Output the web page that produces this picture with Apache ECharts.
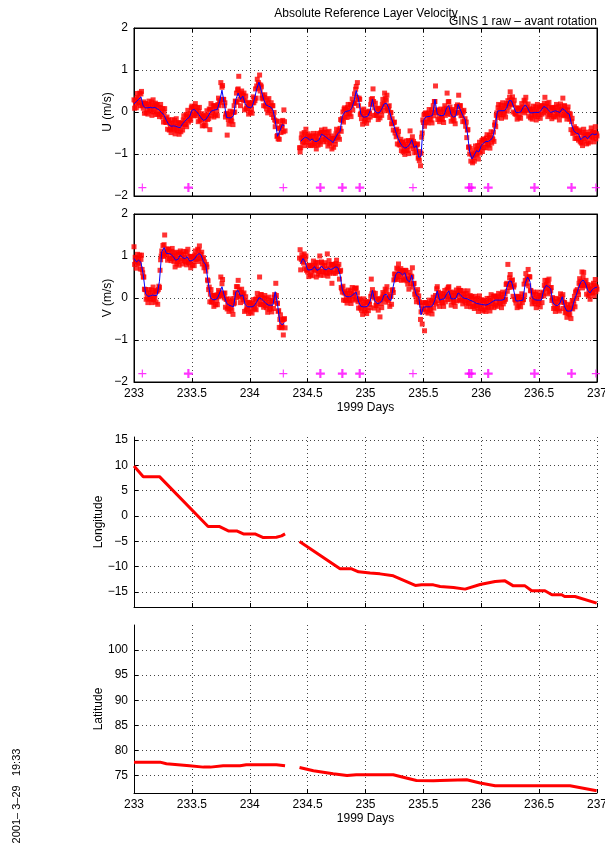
<!DOCTYPE html>
<html>
<head>
<meta charset="utf-8">
<script src="https://cdn.jsdelivr.net/npm/echarts@6/dist/echarts.min.js"></script>
<style>
html,body{margin:0;padding:0;background:#fff;}
#chart{width:605px;height:852px;}
</style>
</head>
<body>
<div id="chart"></div>
<script>
// Velocity samples: smoothed series every 0.02 day from day 233,
// raw samples every 0.005 day (four per smoothed step).
const T0 = 233, DT = 0.02, SUB = 0.005;

const xTicks = [233, 233.5, 234, 234.5, 235, 235.5, 236, 236.5, 237];
const velTicks = [-2, -1, 0, 1, 2];
const lonTicks = [-15, -10, -5, 0, 5, 10, 15];
const latTicks = [75, 80, 85, 90, 95, 100];

const uSmooth = [
  0.19,0.25,0.30,0.36,0.14,0.10,0.10,0.11,0.10,0.11,
  0.08,0.04,-0.02,-0.08,-0.20,-0.30,-0.34,-0.33,-0.34,-0.36,
  -0.37,-0.28,-0.22,-0.16,-0.12,0.04,0.06,0.01,-0.06,-0.14,
  -0.20,-0.18,-0.10,0.00,0.04,0.05,0.06,0.25,0.52,0.20,
  -0.13,-0.14,-0.14,-0.08,0.30,0.45,0.30,0.38,0.20,0.12,
  0.11,0.12,0.30,0.55,0.71,0.50,0.30,0.17,0.14,0.12,
  0.05,-0.20,-0.58,-0.45,-0.30,-0.33,null,null,null,null,
  null,null,-0.70,-0.64,-0.60,-0.62,-0.68,-0.64,-0.70,-0.70,
  -0.66,-0.53,-0.56,-0.60,-0.65,-0.68,-0.73,-0.62,-0.52,-0.46,
  -0.10,0.00,0.02,0.03,0.08,0.25,0.51,0.30,-0.05,-0.12,
  -0.12,-0.10,0.03,0.30,0.03,-0.02,-0.02,0.07,0.19,0.21,
  0.10,-0.12,-0.28,-0.46,-0.62,-0.74,-0.82,-0.86,-0.84,-0.78,
  -0.66,-0.85,-0.80,-1.08,-1.05,-0.20,-0.12,-0.11,-0.10,-0.08,
  0.30,-0.05,-0.08,-0.09,-0.07,0.10,0.15,-0.07,-0.12,-0.10,
  0.18,0.05,-0.08,-0.18,-0.50,-0.95,-1.12,-1.02,-0.92,-0.95,
  -0.80,-0.74,-0.70,-0.70,-0.67,-0.60,-0.35,0.02,0.03,0.03,
  0.03,0.10,0.27,0.27,0.12,-0.01,-0.01,0.00,0.10,0.17,
  0.10,-0.02,-0.02,-0.01,-0.01,-0.01,0.05,0.13,0.11,0.05,
  -0.01,0.01,0.03,0.01,-0.01,0.08,0.05,-0.02,-0.05,-0.30,
  -0.45,-0.50,-0.52,-0.66,-0.60,-0.58,-0.64,-0.56,-0.52,-0.54,
  -0.52
];

const uRaw = [
  [0.29,0.09,0.27,0.20],[0.10,0.34,0.44,0.23],[0.32,0.22,0.45,0.15],[0.43,0.49,0.15,0.20],[0.09,0.24,-0.03,0.20],
  [0.20,-0.02,0.15,0.06],[-0.05,0.18,0.26,0.05],[0.13,0.02,0.24,-0.08],[0.17,0.29,0.00,0.12],[0.06,0.21,-0.06,0.17],
  [0.18,-0.05,0.11,0.01],[-0.11,0.11,0.18,-0.06],[0.00,-0.12,0.08,-0.24],[-0.01,0.08,-0.24,-0.16],[-0.25,-0.12,-0.41,-0.19],
  [-0.20,-0.43,-0.27,-0.37],[-0.49,-0.26,-0.18,-0.39],[-0.31,-0.42,-0.20,-0.52],[-0.27,-0.16,-0.45,-0.34],[-0.41,-0.25,-0.53,-0.28],
  [-0.27,-0.47,-0.27,-0.34],[-0.43,-0.19,-0.09,-0.29],[-0.20,-0.30,-0.06,-0.35],[-0.09,0.04,-0.24,-0.12],[-0.17,-0.03,-0.20,0.10],
  [0.14,-0.08,0.10,0.02],[-0.09,0.13,0.20,-0.04],[0.03,-0.09,0.10,-0.23],[0.01,0.11,-0.20,-0.12],[-0.19,-0.04,-0.33,-0.09],
  [-0.10,-0.32,-0.14,-0.22],[-0.33,-0.08,0.03,-0.18],[-0.08,-0.16,0.07,-0.42],[0.07,0.20,-0.09,0.04],[-0.01,0.15,-0.12,0.14],
  [0.15,-0.07,0.11,0.02],[-0.09,0.18,0.33,0.15],[0.27,0.23,0.70,0.30],[0.59,0.63,0.30,0.30],[0.15,0.22,-0.12,-0.05],
  [-0.03,-0.55,-0.08,-0.18],[-0.29,-0.06,0.02,-0.20],[-0.12,-0.22,0.00,-0.30],[-0.01,0.15,0.00,0.26],[0.25,0.45,0.23,0.53],
  [0.55,0.85,0.45,0.30],[0.15,0.40,0.50,0.30],[0.40,0.28,0.45,0.05],[0.27,0.38,0.08,0.14],[0.07,0.23,-0.05,0.20],
  [0.21,-0.01,0.16,0.07],[-0.03,0.22,0.36,0.22],[0.32,0.27,0.55,0.33],[0.62,0.78,0.57,0.70],[0.66,0.88,0.50,0.64],
  [0.60,0.33,0.40,0.31],[0.15,0.35,0.41,0.14],[0.19,0.07,0.29,-0.02],[0.21,0.32,0.03,0.13],[0.07,0.22,-0.06,0.15],
  [0.15,-0.13,-0.01,-0.19],[-0.35,-0.21,-0.23,-0.58],[-0.56,-0.64,-0.39,-0.65],[-0.38,-0.22,-0.49,-0.33],[-0.35,-0.20,-0.47,0.05],
  [-0.23,-0.45,null,null],[],[],[],[],
  [],[null,null,-0.85,-0.95],[-0.85,-0.62,-0.52,-0.72],[-0.62,-0.72,-0.49,-0.80],[-0.53,-0.41,-0.71,-0.60],
  [-0.67,-0.52,-0.79,-0.57],[-0.58,-0.80,-0.61,-0.69],[-0.79,-0.57,-0.51,-0.75],[-0.68,-0.79,-0.57,-0.88],[-0.63,-0.51,-0.79,-0.67],
  [-0.71,-0.53,-0.77,-0.49],[-0.43,-0.66,-0.49,-0.59],[-0.71,-0.48,-0.41,-0.65],[-0.58,-0.70,-0.49,-0.81],[-0.58,-0.46,-0.76,-0.66],
  [-0.73,-0.57,-0.88,-0.63],[-0.63,-0.84,-0.63,-0.69],[-0.77,-0.52,-0.41,-0.60],[-0.50,-0.60,-0.44,-0.65],[-0.39,-0.18,-0.46,-0.20],
  [-0.15,0.00,-0.24,0.07],[0.10,-0.12,0.06,-0.03],[-0.13,0.10,0.18,-0.03],[0.05,-0.05,0.18,-0.11],[0.15,0.31,0.05,0.22],
  [0.20,0.43,0.22,0.54],[0.61,0.35,0.70,0.30],[0.15,0.33,0.30,-0.06],[-0.03,-0.16,0.04,-0.29],[-0.05,0.07,-0.22,-0.11],
  [-0.17,-0.01,-0.27,-0.02],[0.00,-0.19,0.02,-0.03],[-0.12,0.18,0.30,0.20],[0.32,0.55,0.25,-0.08],[0.10,0.21,-0.08,-0.01],
  [-0.07,0.09,-0.18,0.07],[0.08,-0.14,0.05,0.02],[-0.08,0.18,0.30,0.12],[0.21,0.45,0.33,0.03],[0.28,0.40,0.08,0.13],
  [0.05,0.15,-0.13,-0.01],[-0.02,-0.28,-0.16,-0.28],[-0.43,-0.25,-0.24,-0.50],[-0.44,-0.59,-0.41,-0.76],[-0.55,-0.46,-0.78,-0.70],
  [-0.79,-0.65,-0.92,-0.72],[-0.72,-0.95,-0.79,-0.89],[-1.01,-0.78,-0.69,-0.91],[-0.82,-0.92,-0.68,-0.99],[-0.71,-0.45,-0.81,-0.68],
  [-0.71,-0.59,-0.87,-0.70],[-0.75,-0.97,-0.79,-0.85],[-0.95,-0.78,-0.76,-1.10],[-1.06,-1.16,-0.94,-1.28],[-0.98,-0.60,-0.50,-0.19],
  [-0.25,-0.07,-0.34,-0.04],[-0.02,-0.24,-0.06,-0.15],[-0.26,-0.03,0.06,-0.16],[-0.08,-0.19,0.04,-0.26],[-0.01,0.15,-0.09,0.25],
  [0.25,0.62,-0.01,0.04],[0.05,-0.18,-0.01,-0.12],[-0.23,0.00,0.07,-0.15],[-0.07,-0.18,0.05,-0.25],[0.00,0.15,-0.08,0.09],
  [0.05,0.45,-0.04,0.24],[0.25,0.00,0.12,-0.06],[-0.22,0.02,0.06,-0.17],[-0.10,-0.21,0.02,-0.28],[-0.03,0.13,-0.01,0.17],
  [0.13,0.40,0.00,0.15],[0.15,-0.09,0.03,-0.09],[-0.23,0.00,0.04,-0.22],[-0.16,-0.34,-0.24,-0.61],[-0.43,-0.42,-0.84,-0.83],
  [-1.00,-0.87,-1.17,-0.98],[-1.02,-1.21,-1.04,-1.09],[-1.17,-0.92,-0.81,-1.00],[-0.90,-1.02,-0.80,-1.12],[-0.88,-0.72,-0.98,-0.80],
  [-0.85,-0.68,-0.94,-0.66],[-0.64,-0.85,-0.68,-0.75],[-0.85,-0.62,-0.54,-0.76],[-0.68,-0.79,-0.56,-0.86],[-0.60,-0.47,-0.74,-0.62],
  [-0.65,-0.48,-0.70,-0.31],[-0.25,-0.35,-0.08,-0.02],[-0.13,0.10,0.18,-0.03],[0.05,-0.06,0.16,-0.15],[0.10,0.22,-0.07,0.04],
  [-0.02,0.15,-0.12,0.15],[0.20,0.02,0.27,0.20],[0.12,0.35,0.48,0.21],[0.29,0.17,0.36,0.00],[0.19,0.28,-0.04,-0.02],
  [-0.06,0.10,-0.17,0.08],[0.09,-0.13,0.04,-0.05],[-0.15,0.09,0.20,0.03],[0.12,0.03,0.28,-0.02],[0.24,0.35,0.03,0.12],
  [0.05,0.19,-0.10,0.06],[0.08,-0.14,0.03,-0.06],[-0.17,0.06,0.14,-0.07],[0.01,-0.10,0.12,-0.19],[0.06,0.18,-0.11,0.00],
  [-0.06,0.10,-0.15,0.13],[0.15,-0.05,0.15,0.07],[-0.02,0.21,0.35,0.05],[0.13,0.01,0.20,-0.11],[0.12,0.23,-0.07,-0.01],
  [-0.06,0.10,-0.16,0.10],[0.11,-0.11,0.07,-0.01],[-0.12,0.11,0.18,-0.05],[0.03,-0.08,0.14,-0.19],[0.06,0.19,-0.07,0.08],
  [0.03,0.33,-0.09,0.14],[0.15,-0.07,0.05,-0.05],[-0.17,0.05,0.12,-0.10],[-0.03,-0.17,-0.05,-0.42],[-0.23,-0.15,-0.51,-0.43],
  [-0.50,-0.35,-0.63,-0.40],[-0.40,-0.63,-0.46,-0.55],[-0.67,-0.47,-0.43,-0.71],[-0.64,-0.74,-0.49,-0.80],[-0.53,-0.41,-0.69,-0.58],
  [-0.63,-0.48,-0.76,-0.54],[-0.54,-0.74,-0.55,-0.60],[-0.71,-0.47,-0.38,-0.59],[-0.50,-0.61,-0.48,-0.71],[-0.47,-0.35,-0.64,-0.52],
  [-0.57]
];

const vSmooth = [
  0.94,0.86,0.90,0.85,0.55,0.10,0.04,0.05,0.07,0.06,
  0.07,0.40,1.10,1.20,1.06,1.06,1.04,0.98,0.90,0.92,
  1.02,0.96,0.94,0.98,0.88,0.89,0.92,1.00,1.06,1.02,
  0.86,0.79,0.39,0.02,-0.04,-0.04,-0.01,0.12,0.27,0.05,
  -0.13,-0.17,-0.19,-0.21,0.15,0.18,0.04,0.07,-0.15,-0.21,
  -0.21,-0.21,-0.18,-0.09,0.01,-0.02,-0.07,-0.13,-0.17,-0.17,
  -0.17,0.15,-0.15,-0.58,-0.64,-0.59,null,null,null,null,
  null,null,0.82,0.94,0.85,0.67,0.67,0.68,0.75,0.66,
  0.68,0.76,0.69,0.67,0.71,0.68,0.70,0.74,0.73,0.56,
  0.19,0.06,0.03,0.03,0.05,0.10,0.14,-0.09,-0.20,-0.21,
  -0.21,-0.19,-0.08,0.18,-0.07,-0.13,-0.12,-0.08,0.07,0.09,
  -0.02,-0.06,0.28,0.55,0.62,0.60,0.55,0.60,0.43,0.38,
  0.55,0.25,0.06,0.03,-0.40,-0.22,-0.21,-0.21,-0.21,-0.18,
  -0.05,0.17,-0.05,-0.03,-0.02,0.09,0.17,-0.02,-0.02,-0.01,
  0.12,0.08,0.01,-0.01,-0.02,-0.05,-0.07,-0.10,-0.13,-0.14,
  -0.15,-0.16,-0.17,-0.15,-0.12,-0.08,-0.05,-0.05,-0.05,-0.05,
  -0.03,0.25,0.40,0.40,0.19,-0.07,-0.07,-0.06,-0.05,0.35,
  0.50,0.40,0.01,-0.04,-0.05,-0.05,-0.05,0.20,0.30,0.27,
  0.22,-0.12,-0.17,-0.18,-0.12,0.03,-0.21,-0.31,-0.31,-0.31,
  -0.09,0.07,0.23,0.38,0.43,0.35,0.18,0.12,0.20,0.24,
  0.26
];

const vRaw = [
  [1.22,0.80,0.97,0.86],[0.71,0.95,1.04,0.83],[0.92,0.81,1.02,0.69],[0.92,1.02,0.68,0.60],[0.50,0.50,0.21,0.20],
  [0.20,-0.03,0.12,0.01],[-0.11,0.12,0.20,-0.01],[0.07,-0.03,0.19,-0.11],[0.14,0.26,-0.04,0.07],[0.01,0.17,-0.10,0.16],
  [0.17,-0.15,0.20,0.28],[0.25,0.66,0.91,1.00],[1.12,1.04,1.25,0.99],[1.27,1.50,1.06,1.10],[1.01,1.17,0.90,1.15],
  [1.16,0.94,1.10,1.01],[0.89,1.11,1.18,0.94],[1.00,0.87,1.07,0.74],[0.97,1.09,0.81,0.92],[0.87,1.04,0.78,1.08],
  [1.12,0.90,1.04,0.94],[0.81,1.04,1.11,0.89],[0.96,0.86,1.10,0.79],[1.05,1.16,0.84,0.90],[0.83,0.99,0.72,0.98],
  [0.99,0.78,0.96,0.87],[0.77,1.02,1.12,0.92],[1.02,0.93,1.16,0.87],[1.13,1.24,0.94,1.04],[0.97,1.09,0.81,0.92],
  [0.96,0.72,0.86,0.76],[0.64,0.80,0.74,0.43],[0.41,0.20,0.26,-0.09],[0.09,0.20,-0.10,-0.02],[-0.09,0.07,-0.20,0.05],
  [0.06,-0.16,0.02,-0.06],[-0.16,0.08,0.18,0.03],[0.14,0.07,0.50,0.06],[0.34,0.44,0.11,0.10],[0.00,0.12,-0.22,-0.03],
  [-0.03,-0.26,-0.10,-0.20],[-0.32,-0.09,-0.02,-0.24],[-0.17,-0.29,-0.07,-0.39],[-0.14,-0.01,-0.12,0.13],[0.10,0.27,0.01,0.27],
  [0.42,0.05,0.19,0.04],[-0.11,0.13,0.21,0.01],[0.09,-0.04,0.12,-0.32],[-0.08,0.03,-0.29,-0.20],[-0.26,-0.10,-0.37,-0.12],
  [-0.11,-0.33,-0.16,-0.25],[-0.36,-0.13,-0.04,-0.24],[-0.16,-0.26,-0.03,-0.28],[-0.02,0.11,-0.14,0.01],[-0.04,0.50,-0.16,0.08],
  [0.08,-0.15,0.00,-0.10],[-0.22,0.00,0.06,-0.18],[-0.11,-0.23,-0.02,-0.34],[-0.10,0.02,-0.27,-0.16],[-0.22,-0.06,-0.33,-0.08],
  [-0.07,-0.25,0.02,0.08],[0.00,0.35,0.06,-0.12],[-0.13,-0.32,-0.30,-0.70],[-0.51,-0.40,-0.71,-0.62],[-0.69,-0.52,-0.88,-0.51],
  [-0.49,-0.71,null,null],[],[],[],[],
  [],[null,null,0.95,1.15],[0.67,0.92,1.03,0.87],[0.96,0.83,1.05,0.70],[0.92,1.00,0.66,0.68],
  [0.62,0.78,0.51,0.76],[0.77,0.55,0.72,0.64],[0.53,0.78,0.88,0.68],[0.77,0.65,0.84,0.50],[0.73,0.85,0.57,0.68],
  [0.63,1.00,0.54,0.84],[0.86,0.63,0.78,0.65],[0.54,0.77,0.84,0.61],[0.69,0.59,1.05,0.52],[0.78,0.89,0.59,0.69],
  [0.63,0.80,0.35,0.79],[0.80,0.59,0.77,0.70],[0.59,0.82,0.90,0.67],[0.75,0.63,0.80,0.45],[0.63,0.66,0.25,0.22],
  [0.14,0.28,-0.05,0.12],[0.16,-0.06,0.10,-0.01],[-0.12,0.11,0.19,-0.03],[0.05,-0.06,0.17,-0.13],[0.12,0.25,-0.02,0.10],
  [0.05,0.22,-0.05,0.23],[0.24,0.00,0.12,-0.09],[-0.24,-0.04,-0.02,-0.24],[-0.18,-0.29,-0.07,-0.39],[-0.14,-0.02,-0.31,-0.20],
  [-0.26,-0.10,-0.37,-0.10],[-0.09,-0.30,-0.09,-0.15],[-0.23,0.04,0.45,0.10],[0.20,0.03,0.12,-0.24],[0.00,0.11,-0.18,-0.12],
  [-0.18,-0.02,-0.29,-0.03],[-0.02,-0.45,-0.05,-0.13],[-0.23,0.02,0.13,0.01],[0.09,-0.02,0.21,-0.10],[0.16,0.27,-0.03,-0.01],
  [-0.07,0.08,-0.20,0.04],[0.04,-0.15,0.18,0.20],[0.13,0.43,0.57,0.45],[0.57,0.48,0.71,0.44],[0.69,0.81,0.51,0.61],
  [0.55,0.70,0.42,0.65],[0.65,0.44,0.62,0.56],[0.45,0.66,0.65,0.41],[0.45,0.33,0.54,0.21],[0.45,0.61,0.34,0.52],
  [0.50,0.72,0.26,0.34],[0.35,0.09,0.16,0.03],[-0.09,0.13,0.20,-0.03],[0.05,-0.09,-0.11,-0.51],[-0.33,-0.17,-0.62,-0.26],
  [-0.27,-0.11,-0.78,-0.12],[-0.11,-0.33,-0.16,-0.25],[-0.36,-0.13,-0.05,-0.27],[-0.19,-0.30,-0.07,-0.38],[-0.11,0.02,-0.24,-0.07],
  [-0.10,0.06,-0.14,0.22],[0.27,0.05,0.14,-0.06],[-0.20,0.03,0.11,-0.10],[-0.01,-0.12,0.10,-0.20],[0.05,0.18,-0.09,0.08],
  [0.04,0.21,-0.04,0.25],[0.27,0.03,0.14,-0.03],[-0.17,0.06,0.14,-0.08],[0.00,-0.11,0.11,-0.20],[0.06,0.19,-0.07,0.12],
  [0.07,0.23,-0.05,0.18],[0.18,-0.05,0.10,-0.01],[-0.14,0.09,0.17,-0.07],[0.01,-0.10,0.11,-0.20],[0.05,0.17,-0.13,-0.04],
  [-0.10,0.06,-0.21,0.03],[0.03,-0.20,-0.03,-0.13],[-0.25,-0.03,0.04,-0.18],[-0.11,-0.22,-0.01,-0.32],[-0.07,0.05,-0.25,-0.14],
  [-0.20,-0.04,-0.31,-0.07],[-0.06,-0.28,-0.11,-0.21],[-0.32,-0.09,-0.01,-0.21],[-0.13,-0.23,-0.01,-0.31],[-0.05,0.08,-0.20,-0.08],
  [-0.13,0.04,-0.23,0.04],[0.05,-0.17,0.00,-0.09],[-0.20,0.03,0.11,-0.11],[-0.03,-0.14,0.08,-0.23],[0.02,0.14,-0.14,-0.03],
  [-0.08,0.10,-0.03,0.32],[0.35,0.16,0.80,0.32],[0.25,0.48,0.56,0.34],[0.42,0.28,0.43,0.04],[0.26,0.31,-0.03,-0.05],
  [-0.12,0.04,-0.23,0.02],[0.03,-0.19,-0.02,-0.10],[-0.21,0.02,0.10,-0.11],[-0.03,-0.04,0.33,0.07],[0.42,0.58,0.35,0.47],
  [0.45,0.68,0.29,0.51],[0.50,0.18,0.17,-0.03],[-0.14,0.08,0.14,-0.09],[-0.02,-0.13,0.09,-0.23],[0.02,0.14,-0.15,-0.04],
  [-0.10,0.06,-0.21,0.04],[0.05,-0.11,0.14,0.11],[0.05,0.30,0.42,0.23],[0.32,0.21,0.42,0.10],[0.34,0.45,0.14,0.24],
  [0.17,0.25,-0.06,0.01],[-0.02,-0.25,-0.10,-0.21],[-0.32,-0.09,-0.01,-0.24],[-0.16,-0.26,-0.03,-0.31],[-0.05,0.10,-0.10,0.03],
  [-0.02,0.08,-0.25,-0.10],[-0.11,-0.35,-0.23,-0.34],[-0.46,-0.23,-0.15,-0.37],[-0.29,-0.40,-0.18,-0.49],[-0.24,-0.07,-0.26,-0.06],
  [-0.14,0.04,-0.21,0.14],[0.17,-0.01,0.20,0.15],[0.08,0.35,0.46,0.30],[0.40,0.30,0.62,0.24],[0.50,0.61,0.31,0.38],
  [0.30,0.42,0.09,0.32],[0.28,0.05,0.20,0.09],[-0.03,0.21,0.31,0.13],[0.22,0.12,0.35,0.05],[0.31,0.44,0.15,0.26],
  [0.21]
];

// Event markers drawn along the bottom of both velocity panels
const markerLevel = -1.8;
const eventDaysThin = [233.072, 234.29, 235.41, 236.99];
const eventDaysBold = [233.47, 234.61, 234.80, 234.95, 235.895, 235.915, 236.06, 236.46, 236.78];

// Float track: longitude / latitude against day (null = no fix)
const trackDays = [233.0, 233.08, 233.22, 233.64, 233.74, 233.815, 233.887, 233.945, 234.045, 234.117, 234.23, 234.275, 234.305,
  234.37,
  234.43, 234.78, 234.88, 234.94, 235.04, 235.125, 235.24, 235.43, 235.485, 235.586, 235.645, 235.76, 235.86, 235.99,
  236.12, 236.205, 236.277, 236.378, 236.436, 236.55, 236.61, 236.695, 236.72, 236.81, 236.997];
const lonValues = [9.87, 7.76, 7.76, -2.1, -2.1, -2.96, -2.96, -3.55, -3.55, -4.28, -4.2, -3.95, -3.55,
  null,
  -5.07, -10.46, -10.46, -11.05, -11.3, -11.45, -11.84, -13.75, -13.62, -13.62, -13.95, -14.14, -14.47, -13.55,
  -12.96, -12.83, -13.82, -13.82, -14.8, -14.8, -15.59, -15.59, -15.92, -15.92, -17.24];

const latDays = [233.0, 233.225, 233.28, 233.48, 233.6, 233.66, 233.77, 233.916, 233.97, 234.23, 234.305,
  234.37,
  234.43, 234.55, 234.72, 234.84, 234.92, 235.24, 235.3, 235.44, 235.586, 235.645, 235.874, 235.99, 236.12, 236.767, 236.997];
const latValues = [77.65, 77.65, 77.32, 76.92, 76.66, 76.66, 76.92, 76.92, 77.12, 77.12, 76.92,
  null,
  76.6, 75.93, 75.33, 75.0, 75.13, 75.13, 74.8, 74.0, 73.94, 74.0, 74.14, 73.48, 72.95, 72.95, 71.95];

// ---- helpers -------------------------------------------------------------
const FONT = '"Liberation Sans", Arial, Helvetica, sans-serif';
const minus = v => String(v).replace('-', '\u2212');

function smoothPoints(vals) {
  return vals.map((v, i) => [+(T0 + i * DT).toFixed(4), v]);
}
function rawPoints(rows) {
  const out = [];
  rows.forEach((row, i) => {
    row.forEach((v, k) => {
      if (v !== null) out.push([+(T0 + i * DT + k * SUB).toFixed(4), v]);
    });
  });
  return out;
}
function pairs(xs, ys) {
  return xs.map((x, i) => [x, ys[i]]);
}

const gridLine = { show: true, lineStyle: { color: '#444', type: [1, 3], width: 1 } };
const tickIn = { show: true, inside: true, length: 4, lineStyle: { color: '#000' } };
const axisLineBlack = { show: true, onZero: false, lineStyle: { color: '#000', width: 1 } };
const labelStyle = { color: '#000', fontFamily: FONT, fontSize: 12 };

function bottomX(gridIndex, showLabels) {
  return {
    type: 'value', gridIndex, position: 'bottom', min: 233, max: 237, interval: 0.5,
    axisLine: axisLineBlack,
    axisTick: Object.assign({}, tickIn, { customValues: xTicks }),
    splitLine: gridLine,
    axisLabel: Object.assign({ show: showLabels, margin: 6, customValues: xTicks, formatter: v => String(v),
      showMinLabel: true, showMaxLabel: true, hideOverlap: false }, labelStyle),
    name: showLabels ? '1999 Days' : '', nameLocation: 'middle', nameGap: 20, nameMoveOverlap: false,
    nameTextStyle: { color: '#000', fontFamily: FONT, fontSize: 12 }
  };
}
function topX(gridIndex) {
  return {
    type: 'value', gridIndex, position: 'top', min: 233, max: 237, interval: 0.5,
    axisLine: axisLineBlack, axisTick: tickIn, splitLine: { show: false }, axisLabel: { show: false }
  };
}
function leftY(gridIndex, name, min, max, ticks, gap) {
  return {
    type: 'value', gridIndex, position: 'left', min, max,
    axisLine: axisLineBlack,
    axisTick: Object.assign({}, tickIn, { customValues: ticks }),
    splitLine: gridLine,
    axisLabel: Object.assign({ margin: 6, customValues: ticks, formatter: minus }, labelStyle),
    name, nameLocation: 'middle', nameGap: gap, nameRotate: 90, nameMoveOverlap: false,
    nameTextStyle: { color: '#000', fontFamily: FONT, fontSize: 12 }
  };
}
function rightY(gridIndex, min, max, ticks) {
  return {
    type: 'value', gridIndex, position: 'right', min, max,
    axisLine: axisLineBlack,
    axisTick: Object.assign({}, tickIn, { customValues: ticks }),
    splitLine: { show: false }, axisLabel: { show: false, customValues: ticks }
  };
}

const plusThin = 'path://M4.3,0H5.7V4.3H10V5.7H5.7V10H4.3V5.7H0V4.3H4.3Z';
const plusBold = 'path://M3.8,0H6.2V3.8H10V6.2H6.2V10H3.8V6.2H0V3.8H3.8Z';

function velocitySeries(axisIdx, raw, smooth) {
  return [
    {
      type: 'scatter', xAxisIndex: axisIdx, yAxisIndex: axisIdx,
      data: rawPoints(raw), symbol: 'rect', symbolSize: 5,
      itemStyle: { color: '#ff0000' }, silent: true, z: 2
    },
    {
      type: 'line', xAxisIndex: axisIdx, yAxisIndex: axisIdx,
      data: smoothPoints(smooth), showSymbol: false, connectNulls: false,
      lineStyle: { color: '#0000ff', width: 1 }, silent: true, z: 3
    },
    {
      type: 'scatter', xAxisIndex: axisIdx, yAxisIndex: axisIdx,
      data: eventDaysThin.map(d => [d, markerLevel]), symbol: plusThin, symbolSize: 8,
      itemStyle: { color: '#ff00ff' }, silent: true, z: 4
    },
    {
      type: 'scatter', xAxisIndex: axisIdx, yAxisIndex: axisIdx,
      data: eventDaysBold.map(d => [d, markerLevel]), symbol: plusBold, symbolSize: 9,
      itemStyle: { color: '#ff00ff' }, silent: true, z: 4
    }
  ];
}

const gridBase = { left: 134, width: 463, outerBoundsMode: 'none', containLabel: false };

const chart = echarts.init(document.getElementById('chart'), null, { renderer: 'canvas' });

chart.setOption({
  animation: false,
  backgroundColor: '#fff',
  grid: [
    Object.assign({ top: 28, height: 168, show: true, borderColor: '#000', borderWidth: 1, backgroundColor: 'transparent' }, gridBase),
    Object.assign({ top: 214, height: 168, show: true, borderColor: '#000', borderWidth: 1, backgroundColor: 'transparent' }, gridBase),
    Object.assign({ top: 437, height: 170 }, gridBase),
    Object.assign({ top: 625, height: 168 }, gridBase)
  ],
  xAxis: [bottomX(0, false), bottomX(1, true), bottomX(2, false), bottomX(3, true), topX(0), topX(1)],
  yAxis: [
    leftY(0, 'U (m/s)', -2, 2, velTicks, 20),
    leftY(1, 'V (m/s)', -2, 2, velTicks, 20),
    leftY(2, 'Longitude', -18, 15.6, lonTicks, 29),
    leftY(3, 'Latitude', 71.5, 105, latTicks, 29),
    rightY(0, -2, 2, velTicks),
    rightY(1, -2, 2, velTicks)
  ],
  graphic: [
    { type: 'text', x: 366, y: 14, style: { text: 'Absolute Reference Layer Velocity', fill: '#000', font: '12px ' + FONT, textAlign: 'center', textVerticalAlign: 'middle' } },
    { type: 'text', x: 597, y: 22, style: { text: 'GINS 1 raw \u2013 avant rotation', fill: '#000', font: '12px ' + FONT, textAlign: 'right', textVerticalAlign: 'middle' } },
    { type: 'text', x: 17, y: 796, rotation: Math.PI / 2, style: { text: '2001\u2013 3\u201329   19:33', fill: '#000', font: '11px ' + FONT, textAlign: 'center', textVerticalAlign: 'middle' } }
  ],
  series: [
    ...velocitySeries(0, uRaw, uSmooth),
    ...velocitySeries(1, vRaw, vSmooth),
    {
      type: 'line', xAxisIndex: 2, yAxisIndex: 2, data: pairs(trackDays, lonValues),
      showSymbol: false, connectNulls: false, lineStyle: { color: '#ff0000', width: 3 }, silent: true
    },
    {
      type: 'line', xAxisIndex: 3, yAxisIndex: 3, data: pairs(latDays, latValues),
      showSymbol: false, connectNulls: false, lineStyle: { color: '#ff0000', width: 3 }, silent: true
    }
  ]
});
</script>
</body>
</html>
